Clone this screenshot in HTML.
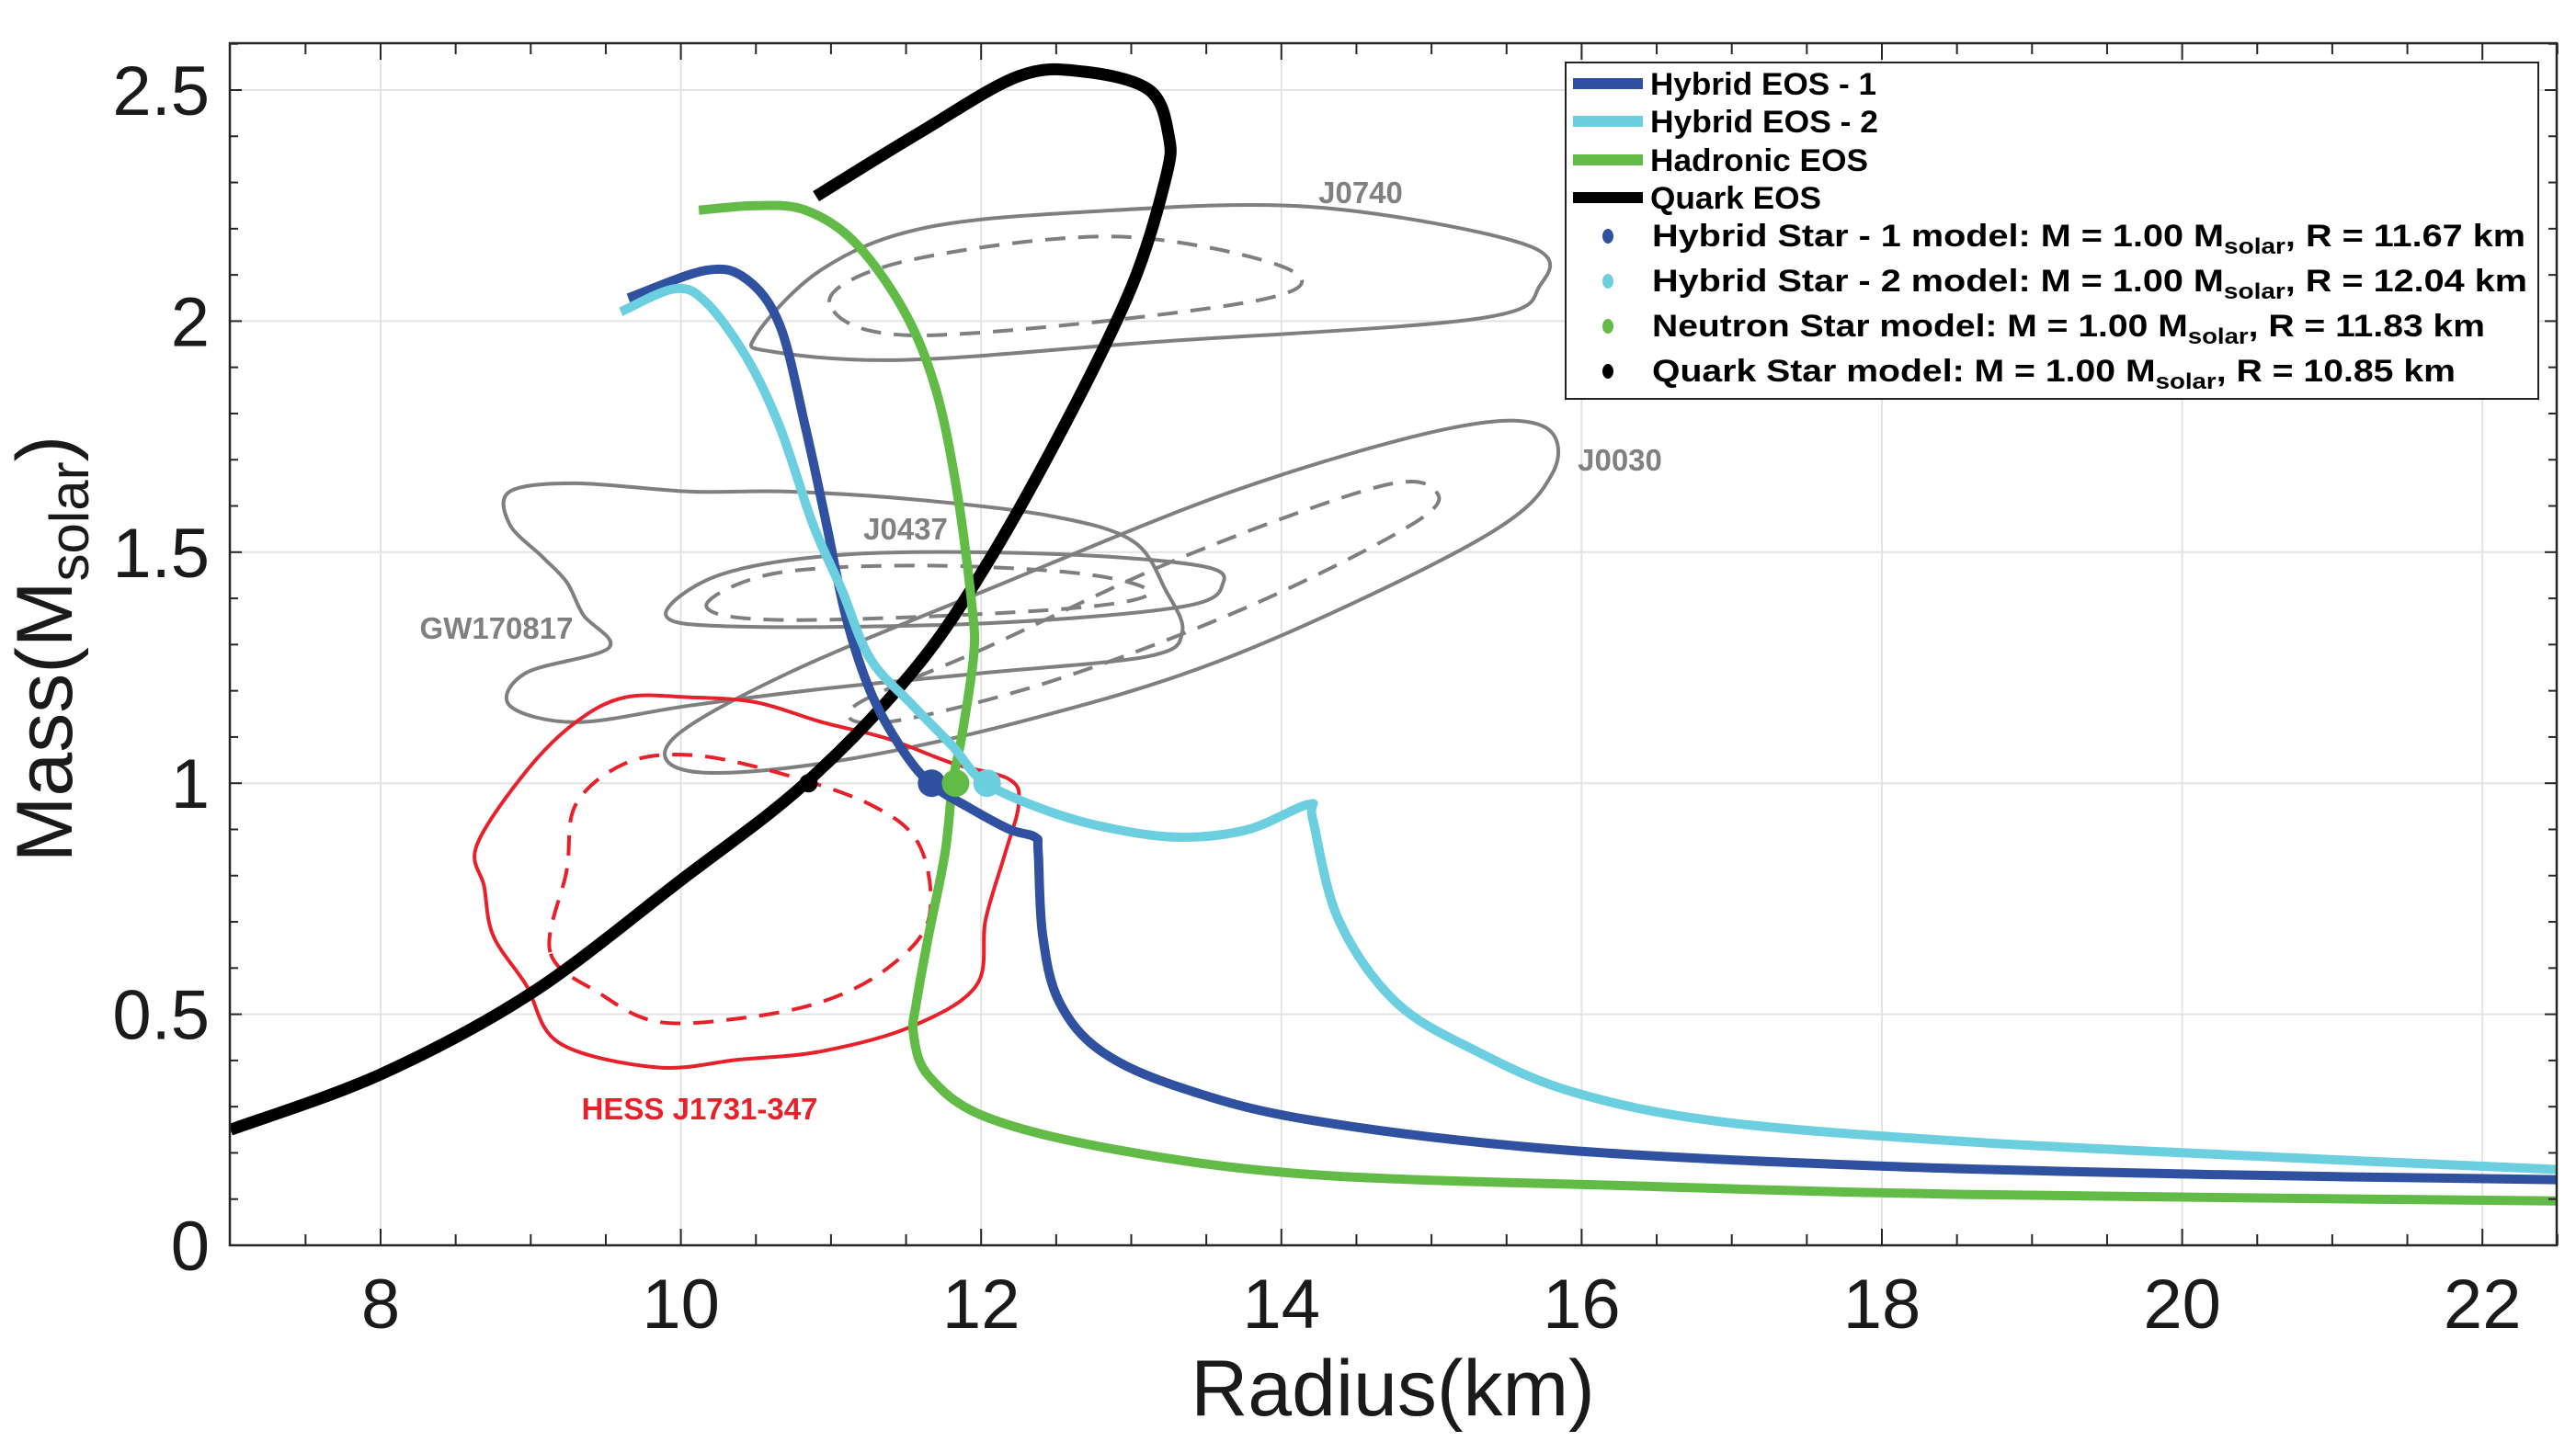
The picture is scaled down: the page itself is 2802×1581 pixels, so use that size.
<!DOCTYPE html>
<html><head><meta charset="utf-8"><style>
body{margin:0;background:#fff}
svg{display:block;font-family:"Liberation Sans",sans-serif}
</style></head><body>
<svg id="chart" width="2802" height="1581" viewBox="0 0 2802 1581" xmlns="http://www.w3.org/2000/svg">
<rect width="2802" height="1581" fill="#fff"/>
<g id="grid"></g>
<g id="contours"></g>
<g id="curves"></g>
<g id="axes"></g>
<text x="1515" y="1540" font-size="86" text-anchor="middle" fill="#1a1a1a">Radius(km)</text>
<text transform="translate(78,706) rotate(-90)" font-size="86" text-anchor="middle" fill="#1a1a1a">Mass(M<tspan font-size="60" dy="18">solar</tspan><tspan dy="-18">)</tspan></text>
<text x="1480" y="221" font-size="33" font-weight="bold" fill="#808080" text-anchor="middle">J0740</text>
<text x="1762" y="512" font-size="33" font-weight="bold" fill="#808080" text-anchor="middle">J0030</text>
<text x="985" y="587" font-size="33" font-weight="bold" fill="#808080" text-anchor="middle">J0437</text>
<text x="540" y="695" font-size="33" font-weight="bold" fill="#808080" text-anchor="middle">GW170817</text>
<text x="761" y="1218" font-size="33" font-weight="bold" fill="#e8202a" text-anchor="middle">HESS J1731-347</text>
<g>
<rect x="1703" y="68" width="1058" height="366" fill="#fff" stroke="#222" stroke-width="2"/>
<line x1="1711" y1="91" x2="1787" y2="91" stroke="#3050a0" stroke-width="12"/>
<text x="1795" y="103" font-size="34" font-weight="bold" textLength="246" lengthAdjust="spacingAndGlyphs">Hybrid EOS - 1</text>
<line x1="1711" y1="132" x2="1787" y2="132" stroke="#6ccfe0" stroke-width="12"/>
<text x="1795" y="144" font-size="34" font-weight="bold" textLength="248" lengthAdjust="spacingAndGlyphs">Hybrid EOS - 2</text>
<line x1="1711" y1="174" x2="1787" y2="174" stroke="#62bb46" stroke-width="12"/>
<text x="1795" y="186" font-size="34" font-weight="bold" textLength="237" lengthAdjust="spacingAndGlyphs">Hadronic EOS</text>
<line x1="1711" y1="215" x2="1787" y2="215" stroke="#000" stroke-width="12"/>
<text x="1795" y="227" font-size="34" font-weight="bold" textLength="186" lengthAdjust="spacingAndGlyphs">Quark EOS</text>
<ellipse cx="1749" cy="257" rx="6" ry="8" fill="#3050a0"/>
<text x="1797" y="268" font-size="34" font-weight="bold" textLength="950" lengthAdjust="spacingAndGlyphs">Hybrid  Star  -  1  model:  M  =  1.00  M<tspan font-size="24" dy="8">solar</tspan><tspan dy="-8">,  R  =  11.67  km</tspan></text>
<ellipse cx="1749" cy="306" rx="6" ry="8" fill="#6ccfe0"/>
<text x="1797" y="317" font-size="34" font-weight="bold" textLength="952" lengthAdjust="spacingAndGlyphs">Hybrid  Star  -  2  model:  M  =  1.00  M<tspan font-size="24" dy="8">solar</tspan><tspan dy="-8">,  R  =  12.04  km</tspan></text>
<ellipse cx="1749" cy="355" rx="6" ry="8" fill="#62bb46"/>
<text x="1797" y="366" font-size="34" font-weight="bold" textLength="906" lengthAdjust="spacingAndGlyphs">Neutron  Star  model:  M  =  1.00  M<tspan font-size="24" dy="8">solar</tspan><tspan dy="-8">,  R  =  11.83  km</tspan></text>
<ellipse cx="1749" cy="404" rx="6" ry="8" fill="#000"/>
<text x="1797" y="415" font-size="34" font-weight="bold" textLength="874" lengthAdjust="spacingAndGlyphs">Quark  Star  model:  M  =  1.00  M<tspan font-size="24" dy="8">solar</tspan><tspan dy="-8">,  R  =  10.85  km</tspan></text>
</g>
</svg>
<script>
const xTicks=[8,10,12,14,16,18,20,22];
const yTicks=[0,0.5,1,1.5,2,2.5];
const yTickLabels=["0","0.5","1","1.5","2","2.5"];
const quarkR=[7,8,9,10,10.83,11.54,12.03,12.58,13.01,13.23,13.25,13.12,12.68,12.25,11.6,10.9];
const quarkM=[0.25,0.37,0.545,0.79,1.0,1.24,1.47,1.79,2.08,2.31,2.40,2.50,2.54,2.53,2.41,2.27];
const hyb1R=[9.65,10.17,10.44,10.66,10.83,10.97,11.1,11.26,11.46,11.66,11.92,12.19,12.36,12.38,12.41,12.52,12.8,13.34,14.21,15.85,18.03,20.22,22.5];
const hyb1M=[2.05,2.11,2.09,1.99,1.77,1.56,1.36,1.20,1.08,1.0,0.947,0.90,0.883,0.85,0.67,0.527,0.42,0.34,0.27,0.207,0.171,0.153,0.142];
const hyb2R=[9.6,9.96,10.17,10.44,10.66,10.88,11.07,11.26,11.54,11.81,12.03,12.47,12.9,13.34,13.78,14.18,14.21,14.38,14.76,15.3,15.96,16.94,18.58,20.76,22.5];
const hyb2M=[2.02,2.07,2.04,1.92,1.77,1.56,1.42,1.27,1.17,1.08,1.0,0.937,0.90,0.883,0.90,0.954,0.92,0.705,0.527,0.42,0.33,0.267,0.224,0.189,0.164];
const hadR=[10.12,10.5,10.83,11.16,11.49,11.7,11.84,11.94,11.95,11.87,11.81,11.76,11.65,11.57,11.55,11.65,12.03,12.9,14.21,16.4,18.58,22.5];
const hadM=[2.24,2.25,2.24,2.17,2.02,1.85,1.63,1.38,1.275,1.10,1.0,0.85,0.67,0.527,0.456,0.367,0.278,0.207,0.153,0.128,0.11,0.096];
const starR=[11.67,12.04,11.83,10.85];
const starM=[1.0,1.0,1.0,1.0];
const starColors=["#3050a0","#6ccfe0","#62bb46","#000"];
const starRadius=[15,15,15,10];
const j0740R=[10.5,10.94,11.6,12.68,14.21,15.63,15.72,15.3,13.12,11.49,10.61,10.5];
const j0740M=[1.969,2.112,2.2,2.236,2.247,2.165,2.076,2.005,1.954,1.916,1.934,1.969];
const j0740dR=[10.99,11.5,12.9,14.05,13.78,11.59,10.99];
const j0740dM=[2.041,2.13,2.183,2.112,2.041,1.969,2.041];
const j0030R=[9.95,10.72,12.03,13.67,15.09,15.74,15.8,15.3,13.67,12.25,10.94,10.06,9.95];
const j0030M=[1.097,1.239,1.417,1.631,1.766,1.773,1.667,1.524,1.275,1.132,1.043,1.026,1.097];
const j0030dR=[11.16,12.03,13.34,14.65,15.03,14.87,13.78,12.47,11.37,11.16];
const j0030dM=[1.168,1.293,1.489,1.642,1.631,1.56,1.382,1.221,1.132,1.168];
const j0437R=[9.9,10.28,11.16,12.47,13.45,13.61,13.34,12.03,10.39,9.9];
const j0437M=[1.364,1.453,1.496,1.496,1.471,1.432,1.382,1.346,1.339,1.364];
const j0437dR=[10.17,10.61,11.59,12.68,13.12,12.47,10.72,10.17];
const j0437dM=[1.382,1.453,1.471,1.453,1.41,1.375,1.353,1.382];
const gwR=[8.86,9.3,10.06,10.72,11.59,12.47,13.01,13.23,13.34,13.12,12.03,10.94,10.06,9.3,8.86,8.97,9.52,9.35,9.24,9.08,8.86,8.86];
const gwM=[1.631,1.649,1.631,1.631,1.613,1.578,1.524,1.417,1.328,1.275,1.239,1.204,1.168,1.132,1.168,1.239,1.293,1.364,1.435,1.489,1.56,1.631];
const hessR=[8.64,8.97,9.3,9.63,10.06,10.5,10.94,11.37,11.81,12.19,12.25,12.16,12.03,11.97,11.54,10.94,10.39,9.84,9.19,8.97,8.75,8.69,8.64];
const hessM=[0.865,1.026,1.132,1.186,1.186,1.175,1.132,1.097,1.043,1.008,0.954,0.848,0.705,0.563,0.474,0.42,0.402,0.385,0.438,0.563,0.67,0.776,0.865];
const hessdR=[9.13,9.24,9.3,9.63,10.06,10.61,11.26,11.59,11.65,11.37,10.94,10.39,9.84,9.46,9.13];
const hessdM=[0.634,0.812,0.954,1.043,1.061,1.026,0.954,0.865,0.705,0.598,0.527,0.491,0.484,0.545,0.634];

const X0=250.7,PXK=163.3,Y0=1355,PYM=502.8,LEFT=250,RIGHT=2781,TOP=47,BOTTOM=1355;
const sx=r=>X0+(r-7)*PXK;
const sy=m=>Y0-m*PYM;
const NS="http://www.w3.org/2000/svg";
function mk(parent,tag,attrs){const e=document.createElementNS(NS,tag);for(const k in attrs)e.setAttribute(k,attrs[k]);parent.appendChild(e);return e;}
const grid=document.getElementById('grid'),axes=document.getElementById('axes'),cont=document.getElementById('contours'),curves=document.getElementById('curves');
const clip=mk(document.getElementById('chart'),'clipPath',{id:'pc'});
mk(clip,'rect',{x:LEFT,y:TOP,width:RIGHT-LEFT,height:BOTTOM-TOP});
cont.setAttribute('clip-path','url(#pc)');curves.setAttribute('clip-path','url(#pc)');
xTicks.forEach(t=>{const l=mk(grid,'line',{x1:sx(t),x2:sx(t),y1:TOP,y2:BOTTOM,stroke:'#e3e3e3','stroke-width':2});

});
yTicks.forEach(t=>{const l=mk(grid,'line',{x1:LEFT,x2:RIGHT,y1:sy(t),y2:sy(t),stroke:'#e3e3e3','stroke-width':2});

});
function smooth(pts,closed){
  const n=pts.length;let d='M'+pts[0][0].toFixed(1)+','+pts[0][1].toFixed(1);
  const get=i=>{if(closed){return pts[((i%(n-1))+(n-1))%(n-1)];}return pts[Math.max(0,Math.min(n-1,i))];};
  for(let i=0;i<n-1;i++){
    const p0=get(i-1),p1=get(i),p2=get(i+1),p3=get(i+2);
    const c1=[p1[0]+(p2[0]-p0[0])/6,p1[1]+(p2[1]-p0[1])/6];
    const c2=[p2[0]-(p3[0]-p1[0])/6,p2[1]-(p3[1]-p1[1])/6];
    d+='C'+c1[0].toFixed(1)+','+c1[1].toFixed(1)+' '+c2[0].toFixed(1)+','+c2[1].toFixed(1)+' '+p2[0].toFixed(1)+','+p2[1].toFixed(1);
  }
  return d;}
function path(R,M,opts,name){
const pts=R.map((r,i)=>[sx(r),sy(M[i])]);
const closed=R[0]===R[R.length-1]&&M[0]===M[M.length-1];
const d=smooth(pts,closed);
const p=mk(opts.g,'path',{d:d,fill:'none',stroke:opts.c,'stroke-width':opts.w,'stroke-linejoin':'round','stroke-linecap':'butt'});
if(opts.dash)p.setAttribute('stroke-dasharray',opts.dash);

}
const G='#7f7f7f';
path(j0740R,j0740M,{g:cont,c:G,w:4},'j0740-contour');
path(j0740dR,j0740dM,{g:cont,c:G,w:4,dash:'22 14'},'j0740-dashed-contour');
path(j0030R,j0030M,{g:cont,c:G,w:4},'j0030-contour');
path(j0030dR,j0030dM,{g:cont,c:G,w:4,dash:'22 14'},'j0030-dashed-contour');
path(j0437R,j0437M,{g:cont,c:G,w:4},'j0437-contour');
path(j0437dR,j0437dM,{g:cont,c:G,w:4,dash:'22 14'},'j0437-dashed-contour');
path(gwR,gwM,{g:cont,c:G,w:4},'gw170817-contour');
path(hessR,hessM,{g:cont,c:'#e8202a',w:4},'hess-contour');
path(hessdR,hessdM,{g:cont,c:'#e8202a',w:4,dash:'22 14'},'hess-dashed-contour');
path(quarkR,quarkM,{g:curves,c:'#000',w:13},'quark-eos-curve');
path(hadR,hadM,{g:curves,c:'#62bb46',w:10},'hadronic-eos-curve');
path(hyb1R,hyb1M,{g:curves,c:'#3050a0',w:10},'hybrid-eos-1-curve');
path(hyb2R,hyb2M,{g:curves,c:'#6ccfe0',w:10},'hybrid-eos-2-curve');
starR.forEach((r,i)=>{const c=mk(curves,'circle',{cx:sx(r),cy:sy(starM[i]),r:starRadius[i],fill:starColors[i]});

});
mk(axes,'rect',{x:LEFT,y:TOP,width:RIGHT-LEFT,height:BOTTOM-TOP,fill:'none',stroke:'#262626','stroke-width':2.5});
for(let r=7.5;r<22.6;r+=0.5){const major=xTicks.includes(r);const L=major?18:12;
mk(axes,'line',{x1:sx(r),x2:sx(r),y1:BOTTOM,y2:BOTTOM-L,stroke:'#262626','stroke-width':2});
mk(axes,'line',{x1:sx(r),x2:sx(r),y1:TOP,y2:TOP+L,stroke:'#262626','stroke-width':2});}
for(let k=1;k<=26;k++){const m=k/10;const major=(k%5===0);const L=major?13:9;
mk(axes,'line',{x1:LEFT,x2:LEFT+L,y1:sy(m),y2:sy(m),stroke:'#262626','stroke-width':2});
mk(axes,'line',{x1:RIGHT,x2:RIGHT-L,y1:sy(m),y2:sy(m),stroke:'#262626','stroke-width':2});}
xTicks.forEach(t=>{const e=mk(axes,'text',{x:sx(t),y:1445,'font-size':76,'text-anchor':'middle',fill:'#1a1a1a'});e.textContent=String(t);

});
yTicks.forEach((t,i)=>{const e=mk(axes,'text',{x:228,y:sy(t)+27,'font-size':76,'text-anchor':'end',fill:'#1a1a1a'});e.textContent=yTickLabels[i];

});
</script>
</body></html>
